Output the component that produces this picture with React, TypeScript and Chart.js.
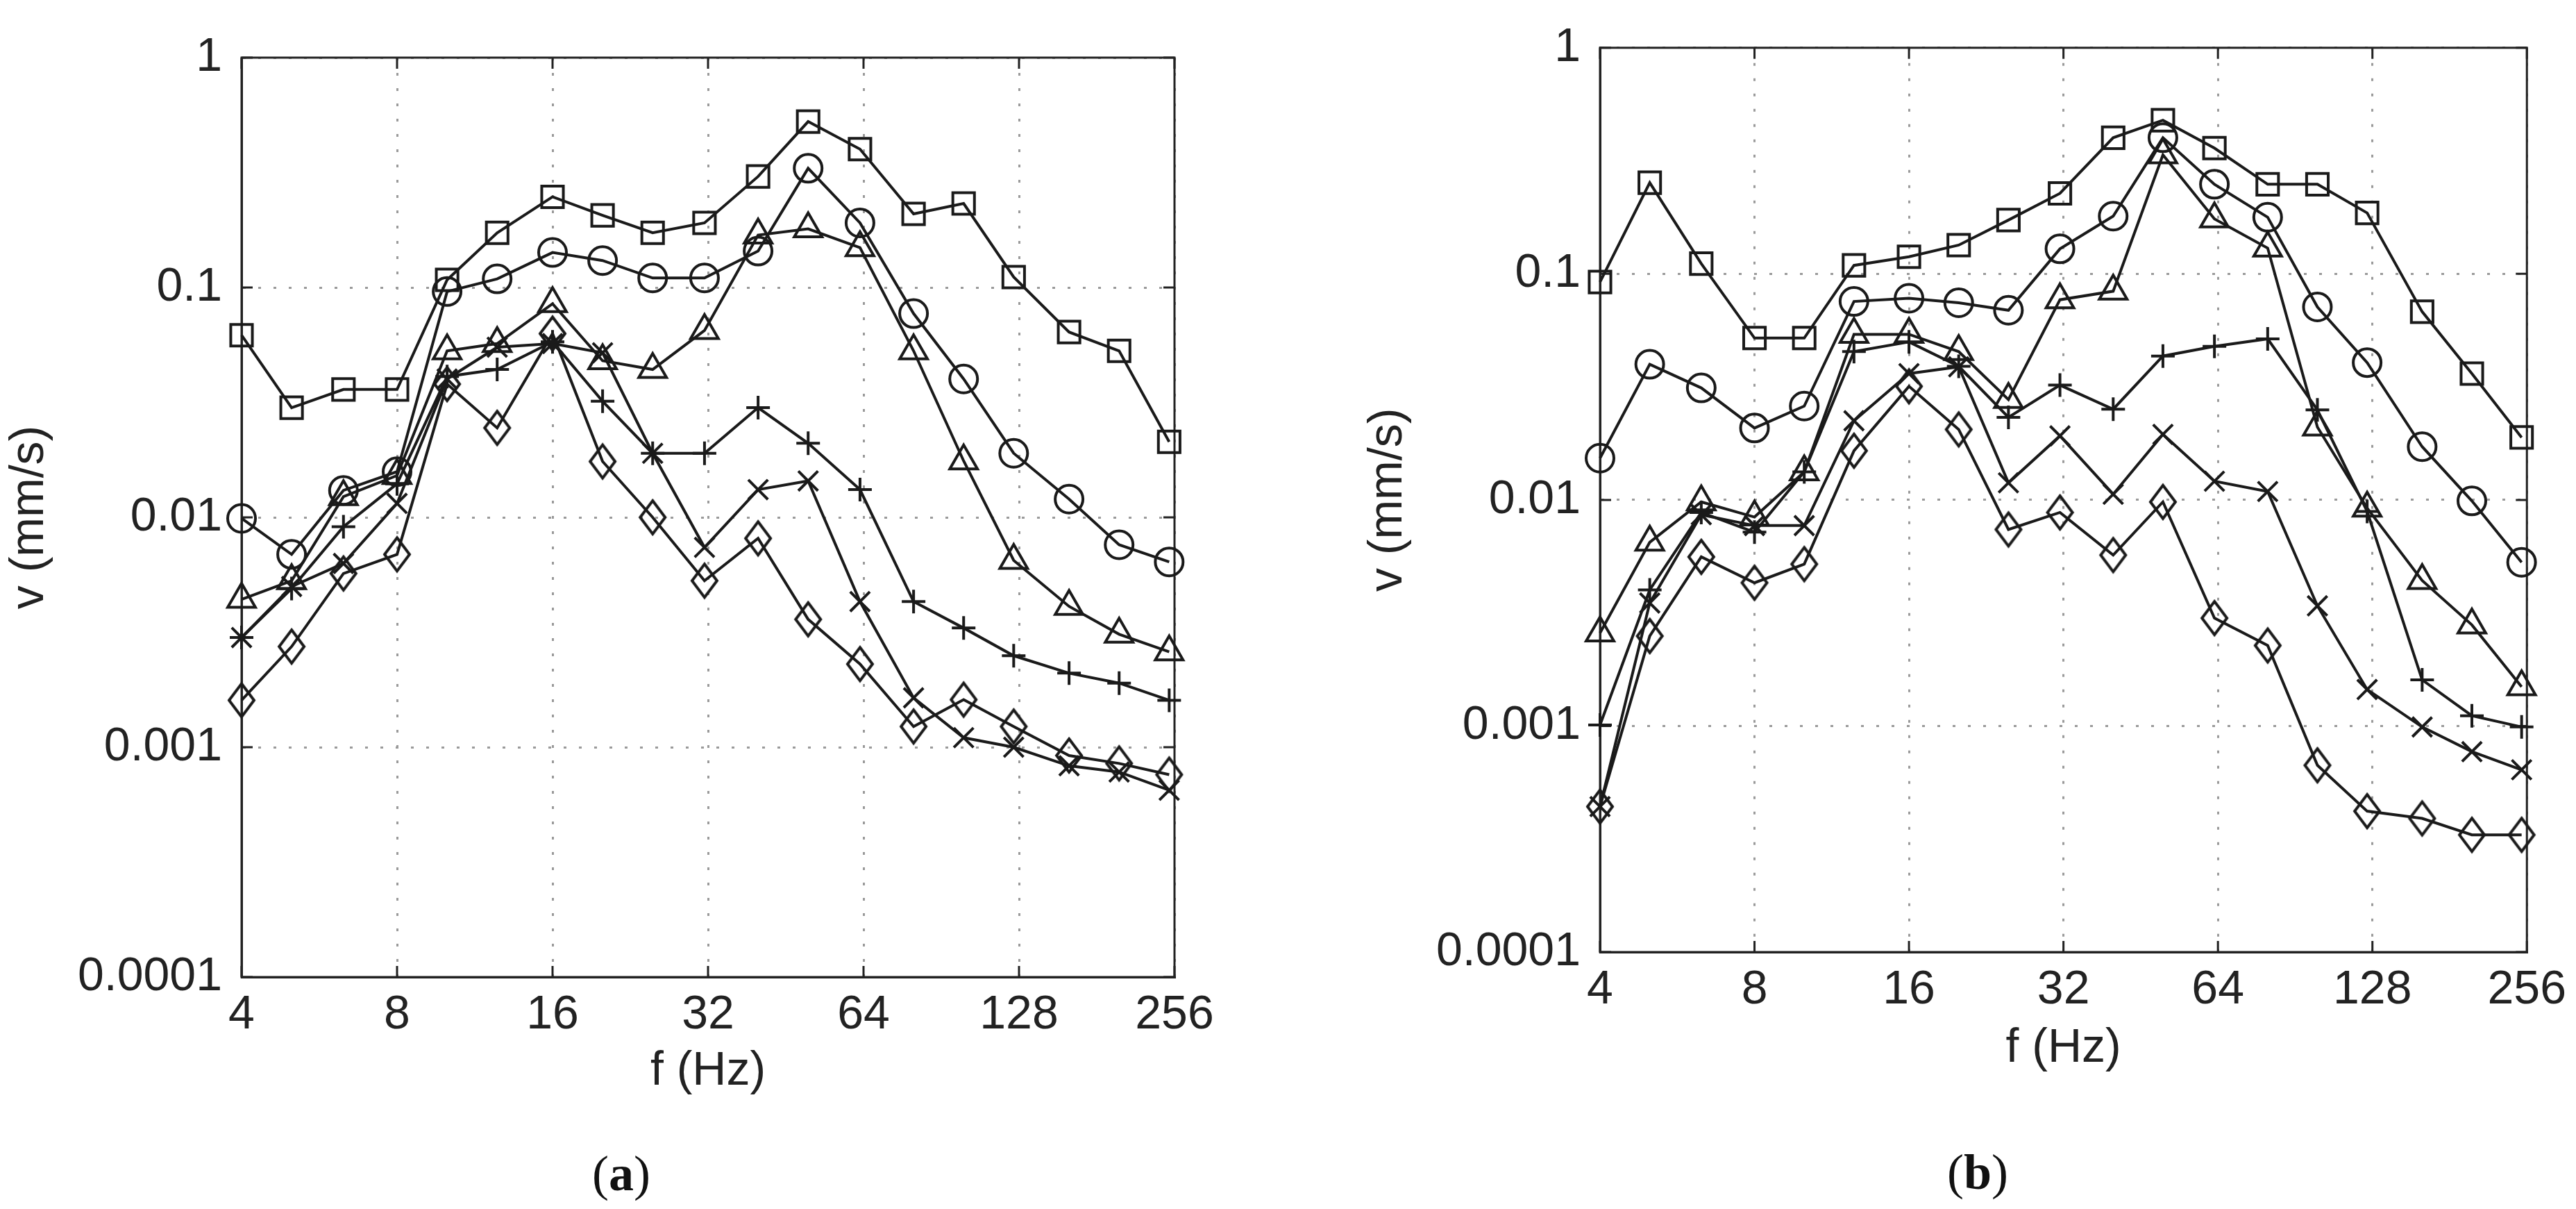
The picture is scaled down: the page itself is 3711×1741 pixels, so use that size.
import { useEffect, useRef } from "react"
import { Chart, registerables } from "chart.js"

Chart.register(...registerables)

// 1/3-octave band centre frequencies (Hz)
const freqs = [4, 5, 6.3, 8, 10, 12.5, 16, 20, 25, 31.5, 40, 50, 63, 80, 100, 125, 160, 200, 250]
const xTicks = [4, 8, 16, 32, 64, 128, 256]
const yTicks = [0.0001, 0.001, 0.01, 0.1, 1]
const yTickLabels = ["0.0001", "0.001", "0.01", "0.1", "1"]

// panel (a)
const squareA = [0.062, 0.030, 0.036, 0.036, 0.108, 0.173, 0.248, 0.206, 0.173, 0.191, 0.304, 0.527, 0.40, 0.209, 0.232, 0.111, 0.064, 0.053, 0.0213]
const circleA = [0.0099, 0.0069, 0.0131, 0.0158, 0.096, 0.109, 0.142, 0.131, 0.110, 0.110, 0.144, 0.33, 0.191, 0.077, 0.040, 0.019, 0.012, 0.0076, 0.0064]
const triangleA = [0.0044, 0.0053, 0.0123, 0.0152, 0.053, 0.057, 0.085, 0.048, 0.044, 0.065, 0.169, 0.18, 0.149, 0.053, 0.0176, 0.0065, 0.0041, 0.0031, 0.0026]
const plusA = [0.0030, 0.0049, 0.0091, 0.014, 0.041, 0.044, 0.058, 0.032, 0.019, 0.019, 0.030, 0.021, 0.0132, 0.0043, 0.0033, 0.0025, 0.0021, 0.0019, 0.0016]
const crossA = [0.0030, 0.0050, 0.0063, 0.0115, 0.040, 0.055, 0.057, 0.052, 0.019, 0.0074, 0.0132, 0.0144, 0.0043, 0.00164, 0.0011, 0.00100, 0.00083, 0.00078, 0.00065]
const diamondA = [0.0016, 0.00274, 0.0057, 0.0069, 0.038, 0.0245, 0.063, 0.0175, 0.0100, 0.0053, 0.0081, 0.0036, 0.0023, 0.00123, 0.00161, 0.00123, 0.00092, 0.00085, 0.00076]

// panel (b)
const squareB = [0.092, 0.253, 0.111, 0.052, 0.052, 0.109, 0.119, 0.134, 0.173, 0.227, 0.40, 0.478, 0.36, 0.249, 0.249, 0.186, 0.068, 0.0362, 0.0189]
const circleB = [0.0153, 0.0398, 0.0313, 0.0208, 0.026, 0.0755, 0.078, 0.0745, 0.069, 0.129, 0.18, 0.40, 0.249, 0.178, 0.0714, 0.0405, 0.0172, 0.0099, 0.0053]
const triangleB = [0.00258, 0.0065, 0.0098, 0.0084, 0.0133, 0.054, 0.054, 0.0453, 0.0278, 0.0768, 0.0838, 0.336, 0.175, 0.130, 0.021, 0.0092, 0.0044, 0.0028, 0.00149]
const plusB = [0.00101, 0.0040, 0.0088, 0.0072, 0.0133, 0.0453, 0.050, 0.039, 0.0232, 0.0322, 0.0252, 0.0433, 0.0478, 0.0516, 0.025, 0.0089, 0.0016, 0.00111, 0.00099]
const crossB = [0.00044, 0.0035, 0.0086, 0.0077, 0.0077, 0.0224, 0.0362, 0.0388, 0.0119, 0.0192, 0.0106, 0.0195, 0.0121, 0.0109, 0.0034, 0.00145, 0.00099, 0.00077, 0.00064]
const diamondB = [0.00044, 0.0025, 0.0056, 0.0043, 0.0052, 0.0165, 0.0318, 0.0205, 0.0074, 0.0088, 0.0057, 0.0098, 0.0030, 0.00227, 0.00067, 0.00042, 0.00039, 0.00033, 0.00033]

const W = 3711
const H = 1741
const INK = "#1a1a1a"
const FONT = "'Liberation Sans', Arial, Helvetica, sans-serif"

// matlab-ish diamond, a bit taller than wide
function diamondMarker() {
  const w = 36
  const h = 48
  const lw = 4
  const c = document.createElement("canvas")
  c.width = w + 8
  c.height = h + 8
  const g = c.getContext("2d")!
  g.strokeStyle = INK
  g.lineWidth = lw
  const cx = c.width / 2
  const cy = c.height / 2
  g.beginPath()
  g.moveTo(cx, cy - h / 2)
  g.lineTo(cx + w / 2, cy)
  g.lineTo(cx, cy + h / 2)
  g.lineTo(cx - w / 2, cy)
  g.closePath()
  g.stroke()
  return c
}

const framePlugin = {
  id: "frame",
  beforeDatasetsDraw(chart: any) {
    const { ctx, chartArea, scales } = chart
    const { left, top, right, bottom } = chartArea
    const len = 16
    ctx.save()
    ctx.strokeStyle = "#222"
    ctx.lineWidth = 3
    ctx.strokeRect(left, top, right - left, bottom - top)
    ctx.beginPath()
    xTicks.forEach((v) => {
      const px = scales.x.getPixelForValue(v)
      ctx.moveTo(px, bottom)
      ctx.lineTo(px, bottom - len)
      ctx.moveTo(px, top)
      ctx.lineTo(px, top + len)
    })
    yTicks.forEach((v) => {
      const py = scales.y.getPixelForValue(v)
      ctx.moveTo(left, py)
      ctx.lineTo(left + len, py)
      ctx.moveTo(right, py)
      ctx.lineTo(right - len, py)
    })
    ctx.stroke()
    ctx.restore()
  },
}

interface PanelProps {
  left: number
  width: number
  plotTop: number
  plotBottom: number
  titleGap: number
  series: number[][]
}

function Panel({ left, width, plotTop, plotBottom, titleGap, series }: PanelProps) {
  const canvasRef = useRef<HTMLCanvasElement>(null)

  useEffect(() => {
    if (!canvasRef.current) return
    const diamond = diamondMarker()
    const styles: any[] = ["rect", "circle", "triangle", "cross", "crossRot", diamond]
    const radii = [22, 20, 23, 17, 20, 21]

    const chart = new Chart(canvasRef.current, {
      type: "line",
      data: {
        datasets: series.map((vals, i) => ({
          data: freqs.map((f, j) => ({ x: f, y: vals[j] })),
          borderColor: INK,
          borderWidth: 4,
          pointStyle: styles[i],
          pointRadius: radii[i],
          pointBorderColor: INK,
          pointBorderWidth: 4,
          pointBackgroundColor: "rgba(0,0,0,0)",
          tension: 0,
          clip: false as any,
        })),
      },
      options: {
        responsive: false,
        animation: false,
        devicePixelRatio: 1,
        layout: { padding: { top: plotTop, right: width - 1692, bottom: 0, left: 0 } },
        plugins: { legend: { display: false }, tooltip: { enabled: false } },
        scales: {
          x: {
            type: "logarithmic",
            min: 4,
            max: 256,
            afterBuildTicks: (scale: any) => {
              scale.ticks = xTicks.map((value) => ({ value }))
            },
            afterFit: (scale: any) => {
              scale.height = H - plotBottom
            },
            ticks: {
              autoSkip: false,
              maxRotation: 0,
              padding: 14,
              color: "#222",
              font: { family: FONT, size: 68 },
              callback: (v: any) => String(v),
            },
            grid: { color: "#9a9a9a", lineWidth: 3, drawTicks: false },
            border: { display: true, color: "#222", width: 3, dash: [4, 18] },
            title: {
              display: true,
              text: "f (Hz)",
              color: "#222",
              font: { family: FONT, size: 68 },
              padding: { top: 0, bottom: H - plotBottom - titleGap - 40.8 },
            },
          },
          y: {
            type: "logarithmic",
            min: 0.0001,
            max: 1,
            afterBuildTicks: (scale: any) => {
              scale.ticks = yTicks.map((value) => ({ value }))
            },
            afterFit: (scale: any) => {
              scale.width = 348
            },
            ticks: {
              autoSkip: false,
              padding: 28,
              color: "#222",
              font: { family: FONT, size: 68 },
              callback: (v: any) => {
                const k = yTicks.findIndex((t) => Math.abs(t - v) / t < 1e-6)
                return k >= 0 ? yTickLabels[k] : ""
              },
            },
            grid: { color: "#9a9a9a", lineWidth: 3, drawTicks: false },
            border: { display: true, color: "#222", width: 3, dash: [4, 18] },
            title: {
              display: true,
              text: "v (mm/s)",
              color: "#222",
              font: { family: FONT, size: 68 },
              padding: { top: 2, bottom: 0 },
            },
          },
        },
      },
      plugins: [framePlugin],
    })

    return () => chart.destroy()
  }, [])

  return (
    <div style={{ position: "absolute", left, top: 0, width, height: H }}>
      <canvas ref={canvasRef} width={width} height={H} style={{ width, height: H }} />
    </div>
  )
}

function Caption({ x, y, letter }: { x: number; y: number; letter: string }) {
  return (
    <div
      style={{
        position: "absolute",
        left: x - 100,
        top: y - 40,
        width: 200,
        textAlign: "center",
        fontFamily: "'Liberation Serif', 'Times New Roman', serif",
        fontSize: 72,
        lineHeight: "80px",
        color: "#111",
      }}
    >
      (<b>{letter}</b>)
    </div>
  )
}

export default function App() {
  return (
    <div style={{ position: "fixed", left: 0, top: 0, width: W, height: H, background: "#fff", overflow: "hidden" }}>
      <Panel
        left={0}
        width={1800}
        plotTop={83}
        plotBottom={1407}
        titleGap={136}
        series={[squareA, circleA, triangleA, plusA, crossA, diamondA]}
      />
      <Panel
        left={1957}
        width={W - 1957}
        plotTop={45}
        plotBottom={1371}
        titleGap={139}
        series={[squareB, circleB, triangleB, plusB, crossB, diamondB]}
      />
      <Caption x={895} y={1690} letter="a" />
      <Caption x={2849} y={1688} letter="b" />
    </div>
  )
}
